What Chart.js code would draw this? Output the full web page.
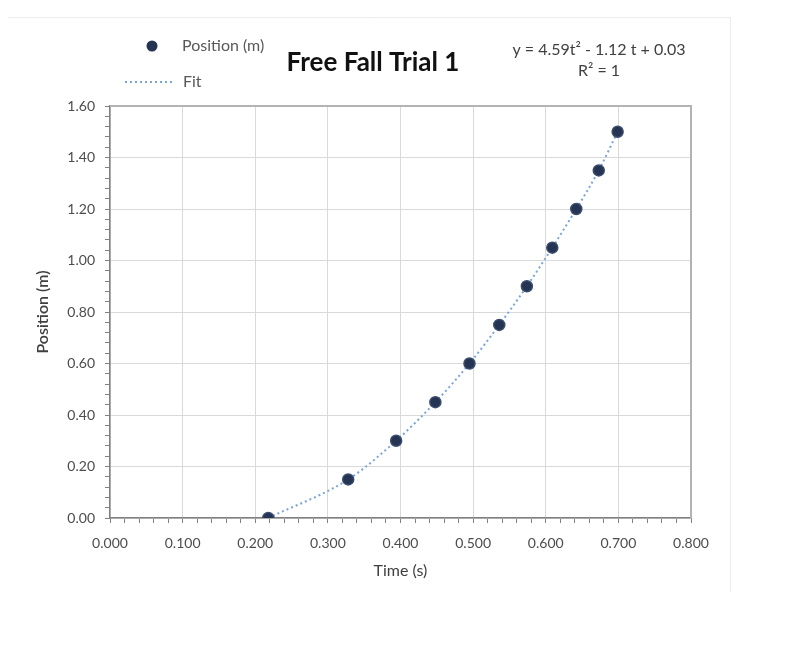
<!DOCTYPE html>
<html lang="en">
<head>
  <meta charset="UTF-8">
  <title>Free Fall Trial 1</title>
  <script src="https://cdn.jsdelivr.net/npm/chart.js"></script>
  <style>
    body { margin: 0; background: #fff; }
    #wrap { width: 800px; height: 645px; }
  </style>
</head>
<body>
<div id="wrap"><canvas id="fallChart" width="800" height="645"></canvas></div>

<script>
// measured times (s) and positions (m)
const times     = [0.218, 0.328, 0.394, 0.448, 0.495, 0.536, 0.574, 0.609, 0.642, 0.673, 0.699];
const positions = [0.00, 0.15, 0.30, 0.45, 0.60, 0.75, 0.90, 1.05, 1.20, 1.35, 1.50];

const chartTitle = 'Free Fall Trial 1';
const fitEquation = ['y = 4.59t² - 1.12 t + 0.03', 'R² = 1'];
const xTitle = 'Time (s)';
const yTitle = 'Position (m)';

const FONT = 'Lato, "Open Sans", sans-serif';
const pointColor = '#243452';
const fitColor = '#7aa5d8';

const pts = times.map((t, i) => ({ x: t, y: positions[i] }));

function isMajor(v, step) {
  const r = v / step;
  return Math.abs(r - Math.round(r)) < 1e-6;
}

// legend, title, equation, plot frame
const decor = {
  id: 'decor',
  afterDraw(chart) {
    const ctx = chart.ctx;
    const a = chart.chartArea;
    ctx.save();

    // faint outer frame
    ctx.strokeStyle = '#ececec';
    ctx.lineWidth = 1;
    ctx.beginPath();
    ctx.moveTo(8, 17.5); ctx.lineTo(730.5, 17.5); ctx.lineTo(730.5, 592);
    ctx.stroke();

    // top + right plot border
    ctx.strokeStyle = '#b3b3b3';
    ctx.lineWidth = 2;
    ctx.beginPath();
    ctx.moveTo(a.left, a.top); ctx.lineTo(a.right, a.top); ctx.lineTo(a.right, a.bottom);
    ctx.stroke();

    // title
    ctx.fillStyle = '#111';
    ctx.font = 'bold 26px ' + FONT;
    ctx.textAlign = 'center';
    ctx.textBaseline = 'middle';
    ctx.fillText(chartTitle, 373, 63);

    // equation
    ctx.fillStyle = '#404040';
    ctx.font = '16px ' + FONT;
    ctx.fillText(fitEquation[0], 599, 50);
    ctx.fillText(fitEquation[1], 599, 71);

    // legend
    const ds = chart.data.datasets;
    ctx.textAlign = 'left';
    ctx.fillStyle = pointColor;
    ctx.beginPath();
    ctx.arc(152, 46, 5.5, 0, Math.PI * 2);
    ctx.fill();
    ctx.fillStyle = '#595959';
    ctx.font = '16px ' + FONT;
    ctx.fillText(ds[0].label, 182, 46);

    ctx.strokeStyle = fitColor;
    ctx.lineWidth = 2;
    ctx.setLineDash([2, 3]);
    ctx.beginPath();
    ctx.moveTo(125, 82); ctx.lineTo(173, 82);
    ctx.stroke();
    ctx.setLineDash([]);
    ctx.fillText(ds[1].label, 183, 82);

    ctx.restore();
  }
};

new Chart(document.getElementById('fallChart'), {
  type: 'scatter',
  data: {
    datasets: [
      {
        label: 'Position (m)',
        data: pts,
        pointRadius: 5.5,
        pointHoverRadius: 5.5,
        backgroundColor: pointColor,
        borderColor: '#3a4c6c',
        borderWidth: 1.5,
        order: 1
      },
      {
        label: 'Fit',
        data: pts,
        showLine: true,
        pointRadius: 0,
        borderColor: fitColor,
        borderWidth: 2,
        borderDash: [2, 3],
        cubicInterpolationMode: 'monotone',
        order: 2
      }
    ]
  },
  options: {
    responsive: false,
    animation: false,
    layout: { padding: { top: 106, right: 109, left: 0, bottom: 0 } },
    plugins: {
      legend: { display: false },
      tooltip: { enabled: false }
    },
    scales: {
      x: {
        type: 'linear',
        min: 0, max: 0.8,
        afterFit(s) { s.height = 127; },
        ticks: {
          stepSize: 0.02,
          autoSkip: false,
          maxRotation: 0,
          padding: 12,
          color: '#4d4d4d',
          font: { family: FONT, size: 14 },
          callback: v => isMajor(v, 0.1) ? v.toFixed(3) : ''
        },
        grid: {
          color: c => isMajor(c.tick.value, 0.1) ? '#d9d9d9' : 'rgba(0,0,0,0)',
          tickColor: '#808080',
          tickLength: 5
        },
        border: { color: '#808080', width: 1.5 },
        title: {
          display: true,
          text: xTitle,
          color: '#404040',
          font: { family: FONT, size: 16 },
          padding: { bottom: 65 }
        }
      },
      y: {
        type: 'linear',
        min: 0, max: 1.6,
        afterFit(s) { s.width = 110; },
        ticks: {
          stepSize: 0.04,
          autoSkip: false,
          padding: 10,
          color: '#4d4d4d',
          font: { family: FONT, size: 14 },
          callback: v => isMajor(v, 0.2) ? v.toFixed(2) : ''
        },
        grid: {
          color: c => isMajor(c.tick.value, 0.2) ? '#d9d9d9' : 'rgba(0,0,0,0)',
          tickColor: '#808080',
          tickLength: 5
        },
        border: { color: '#808080', width: 1.5 },
        title: {
          display: true,
          text: yTitle,
          color: '#404040',
          font: { family: FONT, size: 16, weight: '600' },
          padding: { top: 33 }
        }
      }
    }
  },
  plugins: [decor]
});
</script>
</body>
</html>
